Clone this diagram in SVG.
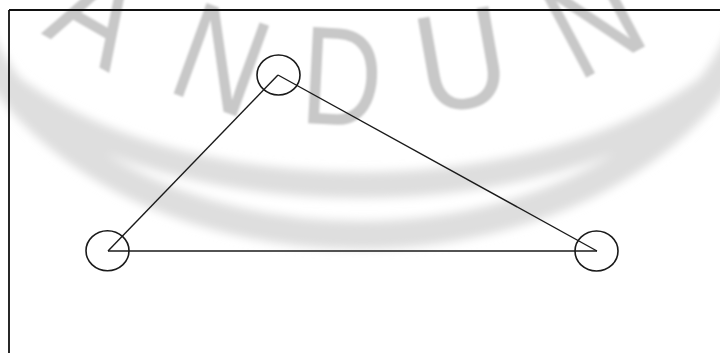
<svg xmlns="http://www.w3.org/2000/svg" width="720" height="353" viewBox="0 0 720 353">
<defs>
<style>
.wm{font-family:"Liberation Sans",Arial,sans-serif;font-size:140px;fill:#c8c8c8;text-anchor:middle}
.node{fill:none;stroke:#1a1a1a;stroke-width:1.6}
.edge{stroke:#1a1a1a;stroke-width:1.4;fill:none}
.frame{stroke:#111;stroke-width:1.8;fill:none}
.ring{fill:none;stroke:#dedede}
</style>
<filter id="blur" x="-20%" y="-20%" width="140%" height="140%"><feGaussianBlur stdDeviation="5"/></filter>
<filter id="soft"><feGaussianBlur stdDeviation="1.3"/></filter>
</defs>
<rect width="720" height="353" fill="#ffffff"/>
<g id="watermark">
<g filter="url(#blur)">
<ellipse class="ring" cx="360" cy="-50" rx="430" ry="235" stroke-width="26"/>
<ellipse class="ring" cx="360" cy="-50" rx="400" ry="285" stroke-width="28"/>
</g>
<g filter="url(#soft)">
<text class="wm" transform="translate(100 10) rotate(30) scale(0.85 1)" y="50">A</text>
<text class="wm" transform="translate(222 58) rotate(20) scale(0.85 1)" y="50">N</text>
<text class="wm" transform="translate(342 75) rotate(3) scale(0.8 1)" y="50">D</text>
<text class="wm" transform="translate(461 58) rotate(-10) scale(0.9 1)" y="50">U</text>
<text class="wm" transform="translate(592 18) rotate(-28) scale(0.85 1)" y="50">N</text>
</g>
</g>
<g id="frame">
<line class="frame" x1="9" y1="10" x2="720" y2="10"/>
<line class="frame" x1="9" y1="10" x2="9" y2="353"/>
</g>
<g id="connectors">
<line class="edge" x1="278" y1="75" x2="108" y2="251"/>
<line class="edge" x1="278" y1="75" x2="597" y2="251"/>
<line class="edge" x1="108" y1="251" x2="597" y2="251"/>
</g>
<g id="node-top"><ellipse class="node" cx="278.5" cy="75" rx="21.5" ry="20"/></g>
<g id="node-left"><ellipse class="node" cx="107.5" cy="250.7" rx="21.5" ry="20"/></g>
<g id="node-right"><ellipse class="node" cx="596.5" cy="251" rx="21.5" ry="20"/></g>
</svg>
